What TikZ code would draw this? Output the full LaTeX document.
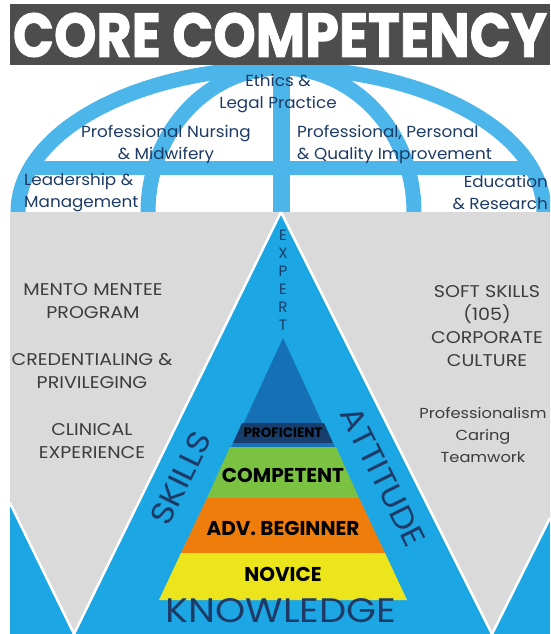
\documentclass[tikz,border=0pt]{standalone}
\usepackage{fontspec}
\setmainfont{Poppins}
\usepackage{graphicx}
\usepackage{tikz}
\usetikzlibrary{positioning}
\definecolor{CoreGray}{HTML}{4D4D4D}
\definecolor{DomeBlue}{HTML}{4CB5EA}
\definecolor{BaseBlue}{HTML}{1CA6E4}
\definecolor{PanelGray}{HTML}{DADADA}
\definecolor{TextGray}{HTML}{3C3C3C}
\definecolor{TextNavy}{HTML}{1D3B66}
\definecolor{LevelBlue}{HTML}{1670B6}
\definecolor{LevelNavy}{HTML}{173E6C}
\definecolor{LevelGreen}{HTML}{7CC242}
\definecolor{LevelOrange}{HTML}{EE7D0C}
\definecolor{LevelYellow}{HTML}{ECE51B}

\begin{document}
\begin{tikzpicture}[x=1pt, y=-1pt,
  dometext/.style={font=\fontsize{16}{22}\selectfont, text=TextNavy, inner sep=0pt, xscale=1.05},
  sidetext/.style={font=\fontsize{17}{23}\selectfont, text=TextGray, align=center, inner sep=0pt, xscale=1.12},
  leveltext/.style={font=\fontsize{20}{20}\selectfont\bfseries, text=black, inner sep=0pt},
  bigtext/.style={text=TextNavy, inner sep=0pt},
  band/.style={draw=DomeBlue, line width=15pt},
  whiteedge/.style={draw=white, line width=2.5pt}
]
\useasboundingbox (0,0) rectangle (550,634);
\coordinate (apex) at (281,212);
\coordinate (tip) at (283,338);

% dome
\begin{scope}
  \clip (10,65) rectangle (550,212);
  \draw[band] (apex) ellipse [x radius=263, y radius=144];
  \draw[band] (apex) ellipse [x radius=133, y radius=144];
  \draw[band, line width=17pt] (281,60) -- (apex);
  \begin{scope}
    \clip (apex) ellipse [x radius=270, y radius=151];
    \draw[band, line width=14pt] (10,168) -- (550,168);
  \end{scope}
\end{scope}

% title bar
\fill[CoreGray] (10,4) rectangle (550,65);
\node[inner sep=0pt, text=white] (title) at (280,35)
  {\resizebox{534pt}{44pt}{\bfseries\addfontfeatures{FakeBold=1.5}CORE COMPETENCY}};

% lower panels
\fill[BaseBlue] (10,212) rectangle (550,634);
\fill[PanelGray] (10,212) -- (apex) -- (74,634) -- (10,503) -- cycle;
\fill[PanelGray] (apex) -- (550,212) -- (550,518) -- (492,634) -- cycle;
\draw[whiteedge] (apex) -- (74,634);
\draw[whiteedge] (apex) -- (492,634);
\draw[whiteedge] (10,503) -- (74,634);
\draw[whiteedge] (550,518) -- (492,634);

% pyramid
\fill[LevelBlue] (tip) -- (235,442) -- (331,442) -- cycle;
\fill[LevelNavy] (242,423) -- (324,423) -- (333,443) -- (233,443) -- cycle;
\fill[LevelBlue] (233,443) -- (333,443) -- (335,447) -- (231,447) -- cycle;
\fill[LevelGreen] (230,447) -- (336,447) -- (359,498) -- (207,498) -- cycle;
\fill[LevelOrange] (207,498) -- (359,498) -- (385,553) -- (181,553) -- cycle;
\fill[LevelYellow] (181,553) -- (385,553) -- (407,600) -- (159,600) -- cycle;

% dome labels
\node[dometext, align=center] (ethics) at (278,94) {Ethics \&\\Legal Practice};
\node[dometext, align=center] (nursing) at (166,144) {Professional Nursing\\\& Midwifery};
\node[dometext, align=left, anchor=west] (personal) at (297,144) {Professional, Personal\\\& Quality Improvement};
\node[dometext, align=left, anchor=west] (leader) at (24,193) {Leadership \&\\Management};
\node[dometext, align=right, anchor=east] (edu) at (548,193) {Education\\\& Research};

% side panels
\node[sidetext] (mentor) at (93,301) {MENTO MENTEE\\PROGRAM};
\node[sidetext] (cred) at (92,371) {CREDENTIALING \&\\PRIVILEGING};
\node[sidetext] (clinic) at (92,441) {CLINICAL\\EXPERIENCE};
\node[sidetext] (soft) at (487,326) {SOFT SKILLS\\(105)\\CORPORATE\\CULTURE};
\node[sidetext, font=\fontsize{14.5}{22}\selectfont, xscale=1] (prof) at (483,435) {Professionalism\\Caring\\Teamwork};

% levels
\node[leveltext, font=\fontsize{13.5}{13.5}\selectfont\bfseries] (proficient) at (283,433) {PROFICIENT};
\node[leveltext] (competent) at (283,475) {COMPETENT};
\node[leveltext] (advbeg) at (283,528) {ADV. BEGINNER};
\node[leveltext] (novice) at (283,574) {NOVICE};

% outer words
\node[bigtext, font=\fontsize{34}{34}\selectfont, xscale=1.13] (know) at (281,611) {KNOWLEDGE};
\node[bigtext, font=\fontsize{31}{31}\selectfont, rotate=64, xscale=1.12] (skills) at (181,478) {SKILLS};
\node[bigtext, font=\fontsize{31}{31}\selectfont, rotate=-63.6, xscale=1.1] (attitude) at (383,477) {ATTITUDE};
\node[bigtext, font=\fontsize{15}{18}\selectfont, align=center] (expert) at (283,280) {E\\X\\P\\E\\R\\T};
\end{tikzpicture}
\end{document}
